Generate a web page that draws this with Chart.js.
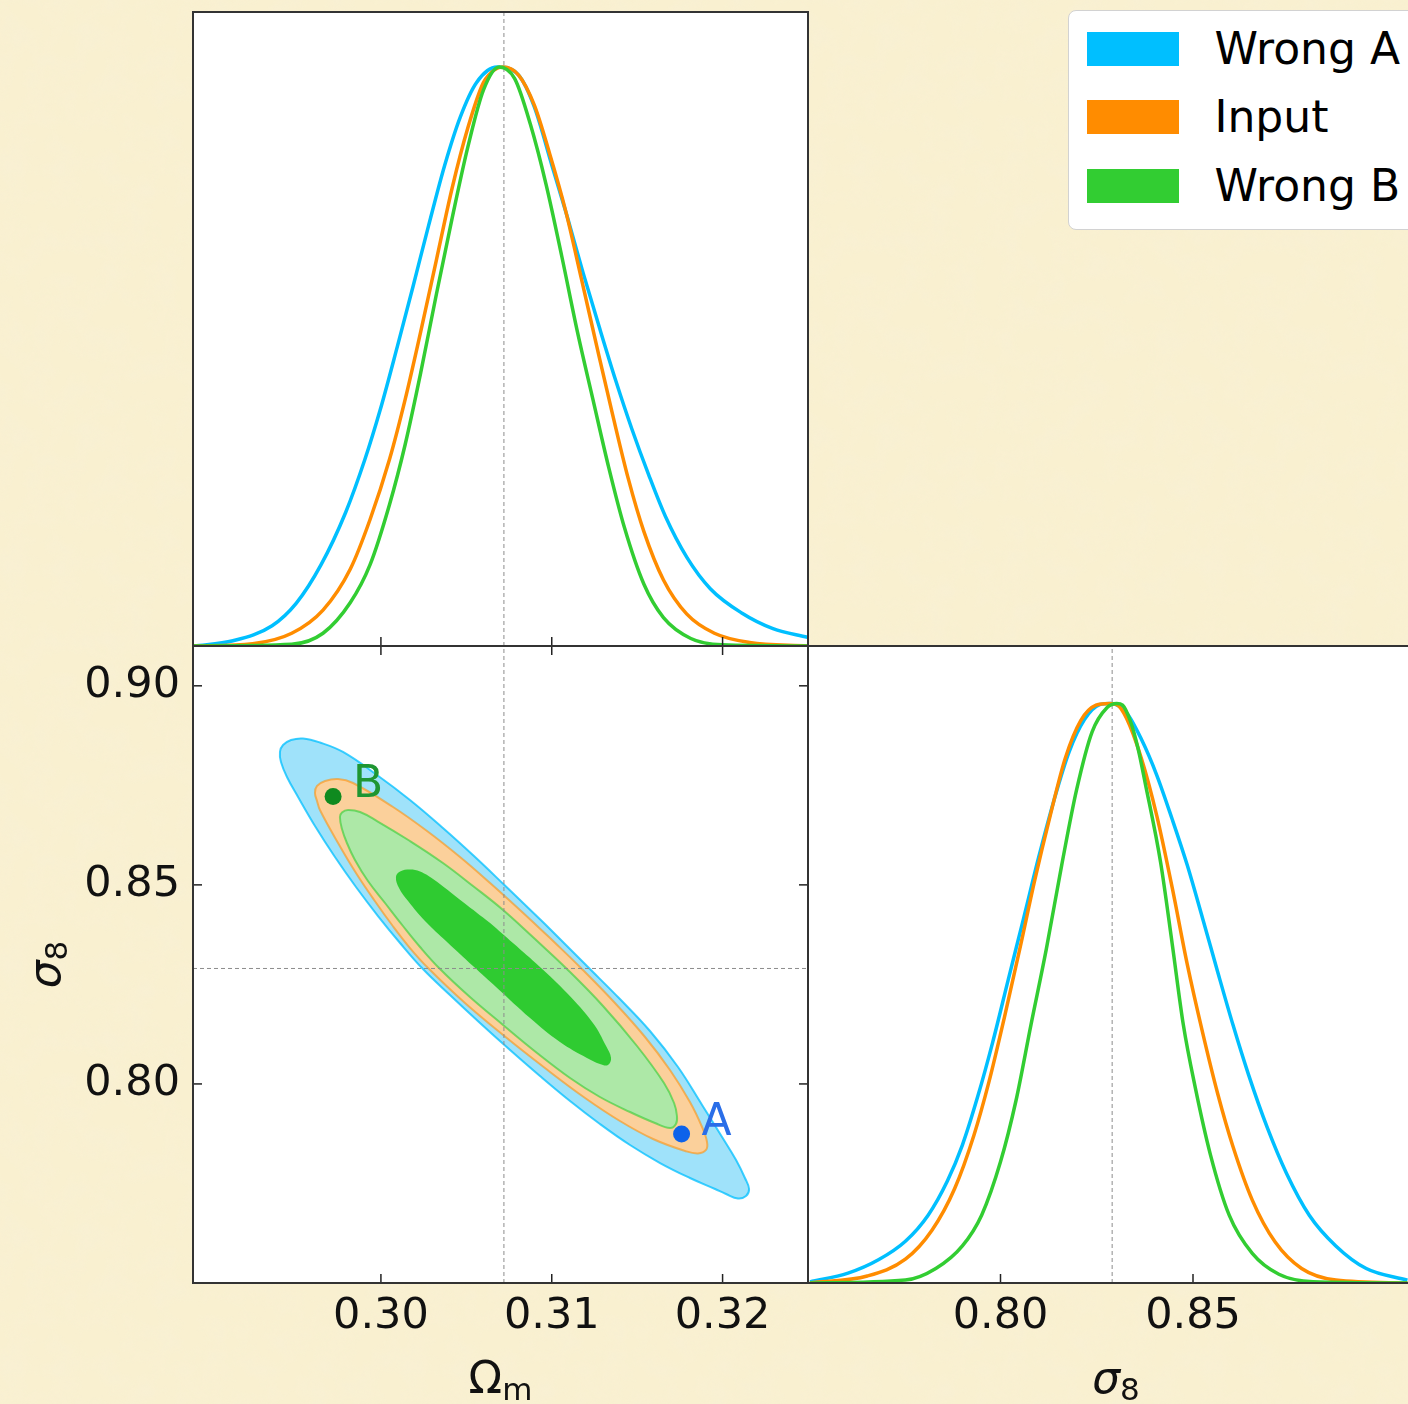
<!DOCTYPE html>
<html>
<head>
<meta charset="utf-8">
<script src="https://cdn.jsdelivr.net/npm/chart.js@4.4.1/dist/chart.umd.min.js"></script>
<style>
  html, body { margin: 0; padding: 0; }
  body {
    width: 1408px; height: 1404px; overflow: hidden; position: relative;
    background-color: #f9f0d0;
    background-image: url("data:image/svg+xml;utf8,<svg xmlns='http://www.w3.org/2000/svg' width='400' height='400'><filter id='f'><feTurbulence type='fractalNoise' baseFrequency='0.04' numOctaves='4' seed='3' stitchTiles='stitch'/><feColorMatrix values='0 0 0 0 0.93  0 0 0 0 0.87  0 0 0 0 0.70  0.7 0 0 0 -0.28'/></filter><rect width='400' height='400' filter='url(%23f)'/></svg>");
    font-family: "DejaVu Sans", sans-serif;
  }
  canvas { position: absolute; }
  #omChart { left: 0; top: 0; }
  #jointChart { left: 0; top: 600px; }
  #s8Chart { left: 780px; top: 600px; }
  #legend {
    position: absolute; left: 1068px; top: 10px; width: 380px; height: 220px;
    background: #fff; border: 1.5px solid #d2d2d2; border-radius: 8px; box-sizing: border-box;
  }
  #legend .row { position: absolute; left: 17.5px; height: 34px; display: flex; align-items: center; }
  #legend .swatch { width: 92px; height: 34px; }
  #legend span { margin-left: 36px; font-size: 44px; line-height: 34px; color: #000; white-space: nowrap; }
</style>
</head>
<body>
<canvas id="omChart" width="830" height="660"></canvas>
<canvas id="jointChart" width="830" height="804"></canvas>
<canvas id="s8Chart" width="660" height="804"></canvas>
<div id="legend"></div>

<script>
// series
const seriesNames = ['Wrong A', 'Input', 'Wrong B'];
const seriesColors = ['#00bfff', '#ff8c00', '#32cd32'];

// fiducial values (dotted guide lines)
const OM_FID = 0.3072;
const S8_FID = 0.829;

// axis ranges and ticks
const OM_RANGE = [0.289, 0.325];
const S8_RANGE = [0.75, 0.91];
const omTicks = [0.30, 0.31, 0.32];
const s8TicksJoint = [0.80, 0.85, 0.90];
const s8TicksMarginal = [0.80, 0.85];

// marginal of Omega_m, normalised to peak = 1  [Om, P]
const omWrongA = [[0.28905,0],[0.29134,0.009],[0.29363,0.035],[0.29505,0.074],[0.29649,0.140],[0.29794,0.231],
  [0.29906,0.322],[0.29995,0.407],[0.30096,0.517],[0.30188,0.621],[0.30279,0.726],[0.30373,0.830],[0.30465,0.914],
  [0.30559,0.973],[0.30680,1.0],[0.30806,0.986],[0.30898,0.931],[0.31001,0.830],[0.31093,0.739],[0.31184,0.644],
  [0.31276,0.553],[0.31374,0.459],[0.31470,0.374],[0.31567,0.296],[0.31665,0.224],[0.31791,0.153],[0.31928,0.099],
  [0.32112,0.057],[0.32295,0.030],[0.32497,0.015]];
const omInput = [[0.28905,0],[0.29249,0.004],[0.29478,0.022],[0.29661,0.062],[0.29821,0.133],[0.29936,0.218],
  [0.30050,0.322],[0.30142,0.426],[0.30233,0.543],[0.30325,0.667],[0.30417,0.791],[0.30509,0.895],[0.30600,0.973],
  [0.30669,0.996],[0.30715,1.0],[0.30806,0.986],[0.30898,0.934],[0.30989,0.849],[0.31081,0.752],[0.31173,0.635],
  [0.31264,0.517],[0.31356,0.400],[0.31448,0.289],[0.31539,0.198],[0.31654,0.114],[0.31791,0.055],[0.31952,0.022],
  [0.32158,0.006],[0.32497,0]];
const omWrongB = [[0.28905,0],[0.29478,0.003],[0.29661,0.022],[0.29821,0.075],[0.29936,0.140],[0.30050,0.244],
  [0.30142,0.348],[0.30233,0.472],[0.30325,0.608],[0.30417,0.739],[0.30509,0.862],[0.30600,0.960],[0.30692,1.0],
  [0.30783,0.980],[0.30875,0.901],[0.30967,0.797],[0.31058,0.674],[0.31150,0.543],[0.31241,0.426],[0.31333,0.309],
  [0.31425,0.205],[0.31539,0.107],[0.31654,0.049],[0.31814,0.013],[0.31997,0.002],[0.32497,0]];

// marginal of sigma_8  [s8, P]
const s8WrongA = [[0.7505,0.002],[0.7604,0.017],[0.7683,0.040],[0.7753,0.072],[0.7812,0.117],[0.7862,0.176],
  [0.7901,0.238],[0.7941,0.322],[0.7980,0.416],[0.8020,0.523],[0.8060,0.629],[0.8099,0.734],[0.8139,0.833],
  [0.8178,0.916],[0.8218,0.972],[0.8258,0.998],[0.8287,1.0],[0.8327,0.984],[0.8366,0.938],[0.8406,0.876],
  [0.8446,0.800],[0.8485,0.721],[0.8525,0.629],[0.8564,0.537],[0.8604,0.445],[0.8644,0.360],[0.8693,0.268],
  [0.8743,0.189],[0.8802,0.117],[0.8871,0.064],[0.8950,0.025],[0.9057,0.005]];
const s8Input = [[0.7505,0],[0.7654,0.012],[0.7753,0.041],[0.7822,0.091],[0.7881,0.163],[0.7931,0.255],
  [0.7970,0.347],[0.8010,0.458],[0.8050,0.576],[0.8089,0.695],[0.8129,0.806],[0.8168,0.905],[0.8208,0.970],
  [0.8248,0.997],[0.8282,1.0],[0.8302,0.998],[0.8327,0.975],[0.8366,0.905],[0.8406,0.806],[0.8446,0.682],
  [0.8485,0.550],[0.8525,0.432],[0.8564,0.327],[0.8604,0.235],[0.8654,0.143],[0.8713,0.071],[0.8782,0.025],
  [0.8871,0.005],[0.9057,0]];
const s8WrongB = [[0.7505,0],[0.7753,0.005],[0.7832,0.025],[0.7901,0.064],[0.7951,0.117],[0.8000,0.209],
  [0.8040,0.314],[0.8079,0.445],[0.8119,0.576],[0.8159,0.721],[0.8198,0.852],[0.8238,0.951],[0.8277,0.993],
  [0.8302,1.0],[0.8317,0.997],[0.8337,0.970],[0.8357,0.923],[0.8376,0.862],[0.8416,0.725],[0.8446,0.585],
  [0.8475,0.445],[0.8505,0.340],[0.8545,0.222],[0.8594,0.117],[0.8654,0.051],[0.8723,0.015],[0.8812,0.002],
  [0.9057,0]];

// joint contours, closed loops  [Om, s8]
const contourWrongA = [[0.30960,0.84017],[0.31206,0.82962],[0.31399,0.82133],[0.31575,0.81330],[0.31739,0.80425],
  [0.31880,0.79471],[0.31997,0.78667],[0.32079,0.78089],[0.32131,0.77637],[0.32155,0.77361],[0.32137,0.77185],
  [0.32090,0.77122],[0.32020,0.77235],[0.31956,0.77361],[0.31809,0.77637],[0.31634,0.78014],[0.31458,0.78466],
  [0.31282,0.78994],[0.31107,0.79571],[0.30931,0.80199],[0.30756,0.80852],[0.30580,0.81531],[0.30404,0.82234],
  [0.30246,0.82887],[0.30112,0.83540],[0.29983,0.84218],[0.29854,0.84947],[0.29731,0.85700],[0.29614,0.86479],
  [0.29515,0.87207],[0.29450,0.87710],[0.29415,0.88086],[0.29409,0.88338],[0.29427,0.88513],[0.29474,0.88639],
  [0.29544,0.88677],[0.29643,0.88576],[0.29778,0.88338],[0.29977,0.87760],[0.30170,0.87132],[0.30363,0.86429],
  [0.30551,0.85700],[0.30726,0.84984],[0.30960,0.84017]];
const contourInput = [[0.30990,0.83666],[0.31165,0.82937],[0.31370,0.82033],[0.31546,0.81179],[0.31692,0.80350],
  [0.31809,0.79546],[0.31880,0.78918],[0.31909,0.78542],[0.31903,0.78341],[0.31856,0.78253],[0.31780,0.78316],
  [0.31593,0.78617],[0.31399,0.79069],[0.31195,0.79647],[0.30960,0.80400],[0.30715,0.81229],[0.30492,0.82033],
  [0.30276,0.82912],[0.30170,0.83414],[0.30065,0.83992],[0.29960,0.84620],[0.29854,0.85298],[0.29749,0.86052],
  [0.29643,0.86881],[0.29626,0.87107],[0.29614,0.87308],[0.29626,0.87484],[0.29673,0.87609],[0.29749,0.87659],
  [0.29837,0.87559],[0.30071,0.86956],[0.30270,0.86353],[0.30463,0.85700],[0.30639,0.85047],[0.30814,0.84369],
  [0.30990,0.83666]];
const contourWrongB = [[0.30902,0.83641],[0.31089,0.82887],[0.31300,0.81958],[0.31499,0.80953],[0.31657,0.80024],
  [0.31716,0.79521],[0.31733,0.79195],[0.31727,0.78994],[0.31692,0.78893],[0.31604,0.79019],[0.31458,0.79295],
  [0.31282,0.79672],[0.31107,0.80149],[0.30914,0.80777],[0.30715,0.81480],[0.30521,0.82184],[0.30346,0.82887],
  [0.30229,0.83440],[0.30129,0.83967],[0.30024,0.84545],[0.29924,0.85097],[0.29848,0.85625],[0.29801,0.86052],
  [0.29772,0.86404],[0.29760,0.86705],[0.29772,0.86818],[0.29807,0.86881],[0.29878,0.86830],[0.29977,0.86604],
  [0.30170,0.86102],[0.30363,0.85550],[0.30539,0.84972],[0.30715,0.84369],[0.30902,0.83641]];
const contourWrongBInner = [[0.30639,0.84042],[0.30773,0.83540],[0.30931,0.82937],[0.31089,0.82284],[0.31241,0.81531],
  [0.31318,0.80953],[0.31347,0.80652],[0.31329,0.80476],[0.31282,0.80501],[0.31206,0.80652],[0.31048,0.81053],
  [0.30873,0.81656],[0.30680,0.82410],[0.30539,0.82962],[0.30387,0.83565],[0.30258,0.84093],[0.30159,0.84595],
  [0.30106,0.84922],[0.30088,0.85198],[0.30112,0.85336],[0.30170,0.85386],[0.30229,0.85336],[0.30305,0.85148],
  [0.30480,0.84570],[0.30639,0.84042]];

// the two marked parameter points
const pointNames = ['A', 'B'];
const pointValues = [[0.3176, 0.7874], [0.2972, 0.8722]];

const TICK_LEN = 9;
const FONT = '"DejaVu Sans"';
Chart.defaults.font.family = 'DejaVu Sans';

// legend
const legend = document.getElementById('legend');
seriesNames.forEach((name, i) => {
  const row = document.createElement('div');
  row.className = 'row';
  row.style.top = (20.5 + i * 68.5) + 'px';
  row.innerHTML = `<div class="swatch" style="background:${seriesColors[i]}"></div><span>${name}</span>`;
  legend.appendChild(row);
});

const xy = arr => arr.map(([x, y]) => ({ x, y }));

function densityLine(points, color, order) {
  return {
    data: xy(points), showLine: true, borderColor: color, borderWidth: 3.5,
    pointRadius: 0, cubicInterpolationMode: 'monotone', fill: false, order
  };
}

function contour(points, fillColor, edgeColor, order) {
  return {
    data: xy(points), showLine: true, tension: 0.4, fill: 'shape',
    backgroundColor: fillColor, borderColor: edgeColor, borderWidth: 2,
    pointRadius: 0, order
  };
}

function guide(points, order) {
  return {
    data: xy(points), showLine: true, borderColor: '#8c8c8c', borderWidth: 1,
    borderDash: [4, 3], pointRadius: 0, fill: false, order
  };
}

// mathtext-like label: main glyph plus lowered subscript, centred on x
function drawMath(ctx, base, sub, x, y, size, italic, vertical) {
  const mainFont = (italic ? 'italic ' : '') + size + 'px ' + FONT;
  const subFont = Math.round(size * 0.7) + 'px ' + FONT;
  ctx.font = mainFont;
  const w1 = ctx.measureText(base).width;
  ctx.font = subFont;
  const w2 = ctx.measureText(sub).width;
  ctx.save();
  ctx.translate(x, y);
  if (vertical) ctx.rotate(-Math.PI / 2);
  ctx.fillStyle = '#111';
  ctx.textAlign = 'left';
  ctx.textBaseline = 'alphabetic';
  const start = -(w1 + w2) / 2;
  ctx.font = mainFont;
  ctx.fillText(base, start, 0);
  ctx.font = subFont;
  ctx.fillText(sub, start + w1, size * 0.15);
  ctx.restore();
}

// white panel, inward ticks, frame and axis titles
function framePlugin(cfg) {
  return {
    id: 'frame',
    beforeDraw(chart) {
      const { ctx, chartArea: a } = chart;
      ctx.save();
      ctx.fillStyle = '#ffffff';
      ctx.fillRect(a.left, a.top, a.right - a.left, a.bottom - a.top);
      ctx.restore();
    },
    afterDatasetsDraw(chart) {
      const { ctx, chartArea: a, scales } = chart;
      ctx.save();
      ctx.strokeStyle = '#222';
      ctx.lineWidth = 1.5;
      (cfg.ticks || []).forEach(t => {
        const scale = scales[t.axis];
        t.values.forEach(v => {
          const p = scale.getPixelForValue(v);
          ctx.beginPath();
          if (t.side === 'bottom') { ctx.moveTo(p, a.bottom); ctx.lineTo(p, a.bottom - TICK_LEN); }
          if (t.side === 'top') { ctx.moveTo(p, a.top); ctx.lineTo(p, a.top + TICK_LEN); }
          if (t.side === 'left') { ctx.moveTo(a.left, p); ctx.lineTo(a.left + TICK_LEN, p); }
          if (t.side === 'right') { ctx.moveTo(a.right, p); ctx.lineTo(a.right - TICK_LEN, p); }
          ctx.stroke();
        });
      });
      ctx.strokeStyle = '#333';
      ctx.lineWidth = 2;
      ctx.strokeRect(a.left, a.top, a.right - a.left, a.bottom - a.top);
      ctx.restore();
    },
    afterDraw(chart) {
      const { ctx, chartArea: a } = chart;
      (cfg.titles || []).forEach(t => {
        if (t.axis === 'x') {
          drawMath(ctx, t.base, t.sub, (a.left + a.right) / 2, a.bottom + 110, 44, t.italic, false);
        } else {
          drawMath(ctx, t.base, t.sub, a.left - 133, (a.top + a.bottom) / 2, 44, t.italic, true);
        }
      });
    }
  };
}

// letters next to the marked points
const markerPlugin = {
  id: 'markerLabels',
  afterDatasetsDraw(chart) {
    const ctx = chart.ctx;
    ctx.save();
    ctx.font = '44px ' + FONT;
    ctx.textBaseline = 'alphabetic';
    chart.data.datasets.forEach((ds, i) => {
      if (!ds.markerLabel) return;
      const el = chart.getDatasetMeta(i).data[0];
      ctx.fillStyle = ds.markerLabelColor;
      ctx.fillText(ds.markerLabel, el.x + 20, el.y + 1);
    });
    ctx.restore();
  }
};

const baseOptions = {
  responsive: false,
  animation: false,
  devicePixelRatio: 1,
  events: [],
  plugins: { legend: { display: false }, tooltip: { enabled: false } }
};

const tickFont = { family: 'DejaVu Sans', size: 43 };

// top-left: Omega_m marginal
new Chart(document.getElementById('omChart'), {
  type: 'scatter',
  data: {
    datasets: [
      densityLine(omWrongA, seriesColors[0], 3),
      densityLine(omInput, seriesColors[1], 2),
      densityLine(omWrongB, seriesColors[2], 1),
      guide([[OM_FID, 0], [OM_FID, 1.095]], 4)
    ]
  },
  options: {
    ...baseOptions,
    layout: { padding: { left: 193, top: 12, right: 22, bottom: 14 } },
    scales: {
      x: { type: 'linear', display: false, min: OM_RANGE[0], max: OM_RANGE[1] },
      y: { type: 'linear', display: false, min: 0, max: 1.095 }
    }
  },
  plugins: [framePlugin({ ticks: [{ axis: 'x', side: 'bottom', values: omTicks }] })]
});

// bottom-left: joint Omega_m - sigma_8 contours
new Chart(document.getElementById('jointChart'), {
  type: 'scatter',
  data: {
    datasets: [
      contour(contourWrongA, '#9fe2fa', 'rgba(0,191,255,0.75)', 7),
      contour(contourInput, '#fbd09b', 'rgba(255,140,0,0.55)', 6),
      contour(contourWrongB, '#ade8a7', 'rgba(50,205,50,0.6)', 5),
      contour(contourWrongBInner, '#2fcb31', 'rgba(0,0,0,0)', 4),
      guide([[OM_FID, S8_RANGE[0]], [OM_FID, S8_RANGE[1]]], 3),
      guide([[OM_RANGE[0], S8_FID], [OM_RANGE[1], S8_FID]], 3),
      {
        data: xy([pointValues[0]]), pointRadius: 8.5, pointBackgroundColor: '#0d62ea',
        pointBorderWidth: 0, order: 1, markerLabel: pointNames[0], markerLabelColor: '#2a6ee8'
      },
      {
        data: xy([pointValues[1]]), pointRadius: 8.5, pointBackgroundColor: '#0f8a1f',
        pointBorderWidth: 0, order: 1, markerLabel: pointNames[1], markerLabelColor: '#1e9632'
      }
    ]
  },
  options: {
    ...baseOptions,
    layout: { padding: { left: 0, top: 46, right: 22, bottom: 0 } },
    scales: {
      x: {
        type: 'linear', min: OM_RANGE[0], max: OM_RANGE[1],
        grid: { display: false, drawTicks: false }, border: { display: false },
        afterBuildTicks: s => { s.ticks = omTicks.map(v => ({ value: v })); },
        afterFit: s => { s.height = 121; },
        ticks: { autoSkip: false, maxRotation: 0, padding: 8, color: '#111', font: tickFont, callback: v => v.toFixed(2) }
      },
      y: {
        type: 'linear', min: S8_RANGE[0], max: S8_RANGE[1],
        grid: { display: false, drawTicks: false }, border: { display: false },
        afterBuildTicks: s => { s.ticks = s8TicksJoint.map(v => ({ value: v })); },
        afterFit: s => { s.width = 193; },
        ticks: { autoSkip: false, padding: 13, color: '#111', font: tickFont, callback: v => v.toFixed(2) }
      }
    }
  },
  plugins: [
    framePlugin({
      ticks: [
        { axis: 'x', side: 'bottom', values: omTicks },
        { axis: 'x', side: 'top', values: omTicks },
        { axis: 'y', side: 'left', values: s8TicksJoint },
        { axis: 'y', side: 'right', values: s8TicksJoint }
      ],
      titles: [
        { axis: 'x', base: 'Ω', sub: 'm', italic: false },
        { axis: 'y', base: 'σ', sub: '8', italic: true }
      ]
    }),
    markerPlugin
  ]
});

// bottom-right: sigma_8 marginal
new Chart(document.getElementById('s8Chart'), {
  type: 'scatter',
  data: {
    datasets: [
      densityLine(s8WrongA, seriesColors[0], 3),
      densityLine(s8Input, seriesColors[1], 2),
      densityLine(s8WrongB, seriesColors[2], 1),
      guide([[S8_FID, 0], [S8_FID, 1.099]], 4)
    ]
  },
  options: {
    ...baseOptions,
    layout: { padding: { left: 28, top: 46, right: 16, bottom: 0 } },
    scales: {
      x: {
        type: 'linear', min: S8_RANGE[0], max: S8_RANGE[1],
        grid: { display: false, drawTicks: false }, border: { display: false },
        afterBuildTicks: s => { s.ticks = s8TicksMarginal.map(v => ({ value: v })); },
        afterFit: s => { s.height = 121; },
        ticks: { autoSkip: false, maxRotation: 0, padding: 8, color: '#111', font: tickFont, callback: v => v.toFixed(2) }
      },
      y: { type: 'linear', display: false, min: 0, max: 1.099 }
    }
  },
  plugins: [framePlugin({
    ticks: [{ axis: 'x', side: 'bottom', values: s8TicksMarginal }],
    titles: [{ axis: 'x', base: 'σ', sub: '8', italic: true }]
  })]
});
</script>
</body>
</html>
